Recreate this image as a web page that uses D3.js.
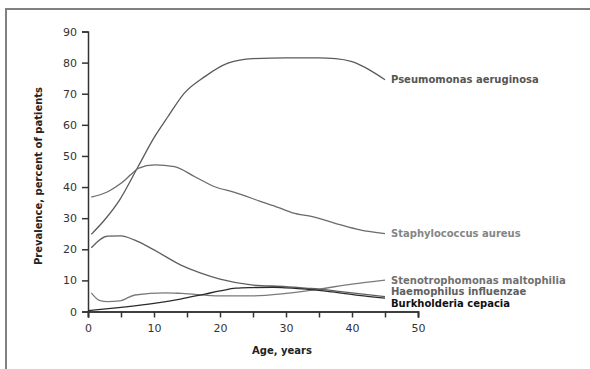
<!DOCTYPE html>
<html>
<head>
<meta charset="utf-8">
<script src="https://cdn.jsdelivr.net/npm/d3@7"></script>
<style>
  body { margin: 0; background: #fff; }
  svg { display: block; }
  text { font-family: "DejaVu Sans", sans-serif; }
</style>
</head>
<body>
<div id="chart"></div>
<script>
// ages / values
const pseudoAge = [0.5, 2.5, 4.8, 7.6, 10.1, 12.1, 14.6, 17.7, 21.2, 25, 30, 35, 37.5, 40, 42.7, 45];
const pseudoVal = [24.8, 29.4, 35.9, 46.6, 56.2, 62.6, 70.2, 75.5, 79.8, 81.3, 81.5, 81.5, 81.3, 80.3, 77.6, 74.5];

const staphAge = [0.5, 3, 5, 6.5, 7.6, 10.1, 13.1, 16.2, 19.2, 22.2, 26, 29, 31, 34, 38, 41.2, 45];
const staphVal = [36.8, 38.5, 41.2, 44, 46, 47.1, 46.6, 43.3, 40.1, 38.3, 35.5, 33.3, 31.7, 30.5, 28, 26.2, 25];

const haemAge = [0.5, 3, 5, 7, 10, 14, 17, 20, 25, 30, 33, 35, 38, 42, 45];
const haemVal = [20.5, 24.2, 24.3, 23, 19.8, 15, 12.4, 10.4, 8.5, 8, 7.5, 7.2, 6.5, 5.5, 4.8];

const stenoAge = [0.5, 1.8, 3, 4.8, 7.1, 11.7, 14.2, 20, 25, 30, 35, 40, 45];
const stenoVal = [6, 3.5, 3.2, 3.4, 5.3, 6, 5.8, 5, 5, 5.8, 7.2, 8.8, 10.1];

const burkAge = [0, 5, 10, 14, 17.7, 20, 22.4, 25, 28, 30, 33, 37, 41, 45];
const burkVal = [0.3, 1.35, 2.6, 4, 5.6, 6.6, 7.5, 7.7, 7.8, 7.6, 7.2, 6.3, 5.2, 4.3];

const seriesNames = ["Pseumomonas aeruginosa", "Staphylococcus aureus", "Stenotrophomonas maltophilia", "Haemophilus influenzae", "Burkholderia cepacia"];
const labelVals = [74.5, 25, 10.1, 6.3, 2.5];

const yTicks = [0, 10, 20, 30, 40, 50, 60, 70, 80, 90];
const xTicks = [0, 10, 20, 30, 40, 50];
const xMinorTicks = [5, 15, 25, 35, 45];

const width = 590, height = 369;

const series = [
  { name: seriesNames[0], age: pseudoAge, val: pseudoVal, line: "#5a5a5a", text: "#555", label: labelVals[0] },
  { name: seriesNames[1], age: staphAge, val: staphVal, line: "#6a6a6a", text: "#858585", label: labelVals[1] },
  { name: seriesNames[2], age: stenoAge, val: stenoVal, line: "#7a7a7a", text: "#707070", label: labelVals[2] },
  { name: seriesNames[3], age: haemAge, val: haemVal, line: "#5f5f5f", text: "#606060", label: labelVals[3] },
  { name: seriesNames[4], age: burkAge, val: burkVal, line: "#2a2a2a", text: "#111", label: labelVals[4] }
];

const svg = d3.select("#chart").append("svg")
  .attr("width", width)
  .attr("height", height);

// outer frame
svg.append("rect")
  .attr("x", 6).attr("y", 9)
  .attr("width", 600).attr("height", 400)
  .attr("fill", "none")
  .attr("stroke", "#808080")
  .attr("stroke-width", 2);

const x = d3.scaleLinear().domain([0, 50]).range([88, 418]);
const y = d3.scaleLinear().domain([0, 90]).range([311.5, 31.5]);

svg.append("g")
  .attr("transform", `translate(${x(0)},0)`)
  .call(d3.axisLeft(y).tickValues(yTicks).tickSize(6).tickPadding(5));

svg.append("g")
  .attr("transform", `translate(0,${y(0)})`)
  .call(d3.axisBottom(x).tickValues(xTicks).tickSize(6).tickPadding(7));

svg.append("g")
  .attr("transform", `translate(0,${y(0)})`)
  .call(d3.axisBottom(x).tickValues(xMinorTicks).tickSize(6).tickFormat(""));

svg.selectAll(".domain").attr("stroke", "#333").attr("stroke-width", 1.5);
svg.selectAll(".tick line").attr("stroke", "#333").attr("stroke-width", 1.5);
svg.selectAll(".tick text")
  .attr("font-family", "DejaVu Sans, sans-serif")
  .attr("font-size", 11)
  .attr("fill", "#333");

// axis titles
svg.append("text")
  .attr("x", 282).attr("y", 354)
  .attr("text-anchor", "middle")
  .attr("font-size", 10)
  .attr("font-weight", "bold")
  .attr("fill", "#222")
  .text("Age, years");

svg.append("text")
  .attr("transform", `translate(42,176) rotate(-90)`)
  .attr("text-anchor", "middle")
  .attr("font-size", 10)
  .attr("font-weight", "bold")
  .attr("fill", "#222")
  .text("Prevalence, percent of patients");

const line = d3.line()
  .x(d => x(d[0]))
  .y(d => y(d[1]))
  .curve(d3.curveMonotoneX);

svg.append("g").selectAll("path")
  .data(series)
  .enter()
  .append("path")
  .attr("d", s => line(s.age.map((a, i) => [a, s.val[i]])))
  .attr("fill", "none")
  .attr("stroke", s => s.line)
  .attr("stroke-width", 1.3);

svg.append("g").selectAll("text")
  .data(series)
  .enter()
  .append("text")
  .attr("x", s => x(s.age[s.age.length - 1]) + 6)
  .attr("y", s => y(s.label))
  .attr("dy", "0.35em")
  .attr("font-size", 10)
  .attr("font-weight", "bold")
  .attr("fill", s => s.text)
  .text(s => s.name);
</script>
</body>
</html>
